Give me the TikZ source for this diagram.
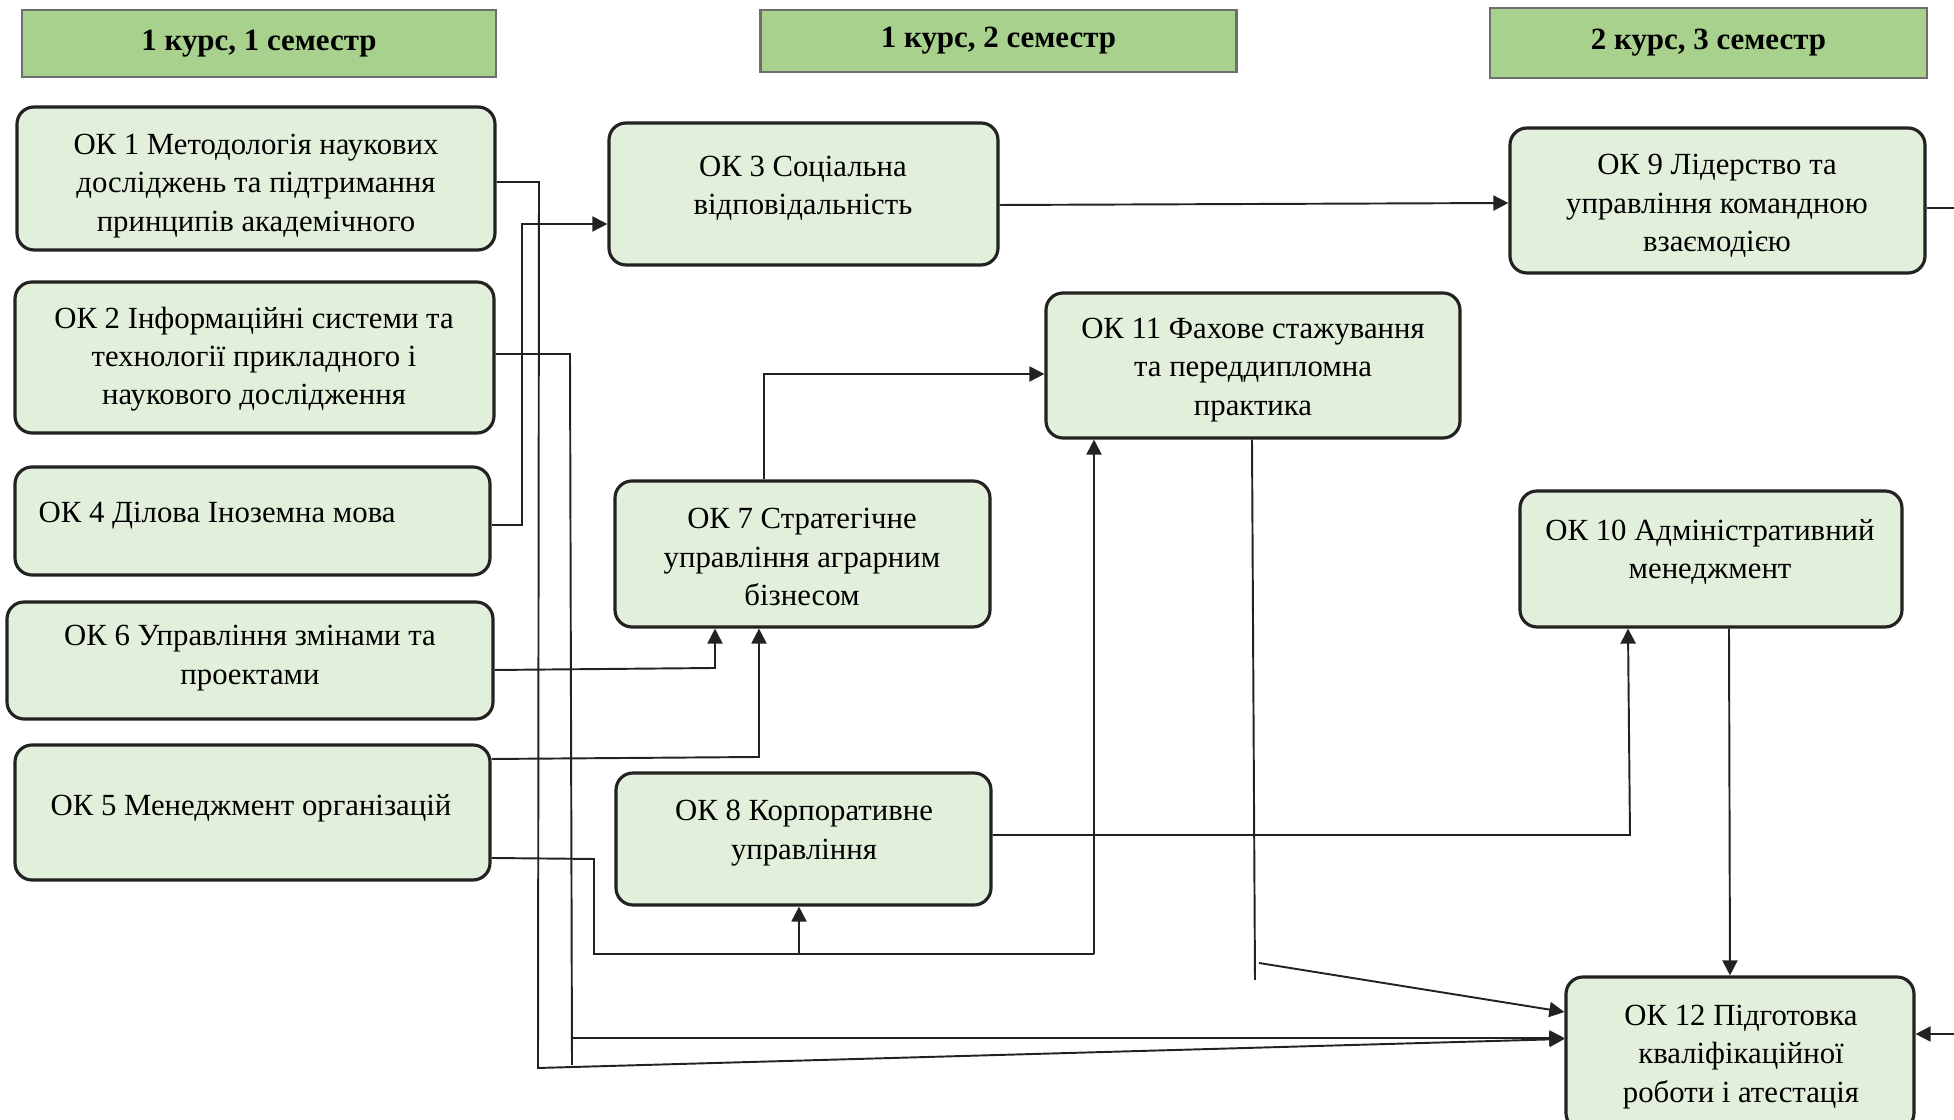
\documentclass[tikz,border=0pt]{standalone}
\usepackage{fontspec}
\setmainfont{Liberation Serif}
\usetikzlibrary{arrows.meta}
\definecolor{hdrgreen}{HTML}{A9D18E}
\definecolor{hdrline}{HTML}{6E6E6E}
\definecolor{boxgreen}{HTML}{E2EFDA}
\definecolor{boxline}{HTML}{222222}
\tikzset{
  hdr/.style={draw=hdrline, fill=hdrgreen, line width=0.7pt, inner sep=0pt,
    font=\fontsize{8.8}{10.9}\selectfont\bfseries},
  boxnode/.style={draw=boxline, fill=boxgreen, line width=0.9pt, rounded corners=1.7mm, inner sep=0pt},
  txt/.style={align=center, inner sep=0pt, font=\fontsize{8.75}{10.9}\selectfont},
  conn/.style={draw=boxline, line width=0.55pt},
  arr/.style={conn, -{Triangle[length=4.3pt,width=4.3pt]}}
}
\begin{document}
\begin{tikzpicture}[x=0.1mm, y=-0.1mm]
\useasboundingbox (0,0) rectangle (1954,1120);
\clip (0,0) rectangle (1954,1120);

% headers
\node[hdr, minimum width={474*0.1mm}, minimum height={67*0.1mm}] (h1) at (259,43.5) {1 курс, 1 семестр};
\node[hdr, minimum width={476*0.1mm}, minimum height={62*0.1mm}] (h2) at (998.5,41) {1 курс, 2 семестр};
\node[hdr, minimum width={437*0.1mm}, minimum height={70*0.1mm}] (h3) at (1708.5,43) {2 курс, 3 семестр};

% boxes
\node[boxnode, minimum width={478*0.1mm}, minimum height={143*0.1mm}] (ok1) at (256,178.5) {};
\node[boxnode, minimum width={479*0.1mm}, minimum height={151*0.1mm}] (ok2) at (254.5,357.5) {};
\node[boxnode, minimum width={475*0.1mm}, minimum height={108*0.1mm}] (ok4) at (252.5,521) {};
\node[boxnode, minimum width={486*0.1mm}, minimum height={117*0.1mm}] (ok6) at (250,660.5) {};
\node[boxnode, minimum width={475*0.1mm}, minimum height={135*0.1mm}] (ok5) at (252.5,812.5) {};
\node[boxnode, minimum width={389*0.1mm}, minimum height={142*0.1mm}] (ok3) at (803.5,194) {};
\node[boxnode, minimum width={375*0.1mm}, minimum height={146*0.1mm}] (ok7) at (802.5,554) {};
\node[boxnode, minimum width={375*0.1mm}, minimum height={132*0.1mm}] (ok8) at (803.5,839) {};
\node[boxnode, minimum width={414*0.1mm}, minimum height={145*0.1mm}] (ok11) at (1253,365.5) {};
\node[boxnode, minimum width={415*0.1mm}, minimum height={145*0.1mm}] (ok9) at (1717.5,200.5) {};
\node[boxnode, minimum width={382*0.1mm}, minimum height={136*0.1mm}] (ok10) at (1711,559) {};
\node[boxnode, minimum width={348*0.1mm}, minimum height={153*0.1mm}] (ok12) at (1740,1053.5) {};

% texts
\node[txt] (ok1t) at (256,186) {ОК 1 Методологія наукових\\досліджень та підтримання\\принципів академічного};
\node[txt] (ok2t) at (254,359) {ОК 2 Інформаційні системи та\\технології прикладного і\\наукового дослідження};
\node[txt, anchor=west] (ok4t) at (38,516) {ОК 4 Ділова Іноземна мова};
\node[txt] (ok6t) at (250,658) {ОК 6 Управління змінами та\\проектами};
\node[txt] (ok5t) at (251,808) {ОК 5 Менеджмент організацій};
\node[txt] (ok3t) at (803,188) {ОК 3 Соціальна\\відповідальність};
\node[txt] (ok7t) at (802,557) {ОК 7 Стратегічне\\управління аграрним\\бізнесом};
\node[txt] (ok8t) at (804,833) {ОК 8 Корпоративне\\управління};
\node[txt] (ok11t) at (1253,370) {ОК 11 Фахове стажування\\та переддипломна\\практика};
\node[txt] (ok9t) at (1717,206) {ОК 9 Лідерство та\\управління командною\\взаємодією};
\node[txt] (ok10t) at (1710,552) {ОК 10 Адміністративний\\менеджмент};
\node[txt] (ok12t) at (1741,1057) {ОК 12 Підготовка\\кваліфікаційної\\роботи і атестація};

% free ends at the right edge
\coordinate (edgeA) at (1954,208);
\coordinate (edgeB) at (1954,1034);

% connectors
\draw[arr] (ok1.east |- 0,182) -- (539,182) -- (538,1068) -- (ok12.west |- 0,1039);
\draw[conn] (ok2.east |- 0,354) -- (570,354) -- (572,1065);
\draw[arr] (572,1038) -- (ok12.west |- 0,1038);
\draw[arr] (ok4.east |- 0,525) -- (522,525) -- (522,224) -- (ok3.west |- 0,224);
\draw[arr] (ok6.east |- 0,670) -- (715,668) -- (ok7.south -| 715,0);
\draw[arr] (ok5.east |- 0,759) -- (759,757) -- (ok7.south -| 759,0);
\draw[conn] (ok5.east |- 0,858) -- (594,859) -- (594,954) -- (1094,954);
\draw[arr] (1094,954) -- (ok11.south -| 1094,0);
\draw[arr] (799,954) -- (ok8.south -| 799,0);
\draw[arr] (ok7.north -| 764,0) -- (764,374) -- (ok11.west |- 0,374);
\draw[arr] (ok3.east |- 0,205) -- (ok9.west |- 0,203);
\draw[conn] (ok9.east |- 0,208) -- (edgeA);
\draw[arr] (ok8.east |- 0,835) -- (1630,835) -- (ok10.south -| 1628,0);
\draw[arr] (ok10.south -| 1729,0) -- (ok12.north -| 1730,0);
\draw[conn] (ok11.south -| 1252,0) -- (1255,980);
\draw[arr] (1259,963) -- (ok12.west |- 0,1012);
\draw[arr] (edgeB) -- (ok12.east |- 0,1034);
\end{tikzpicture}
\end{document}
